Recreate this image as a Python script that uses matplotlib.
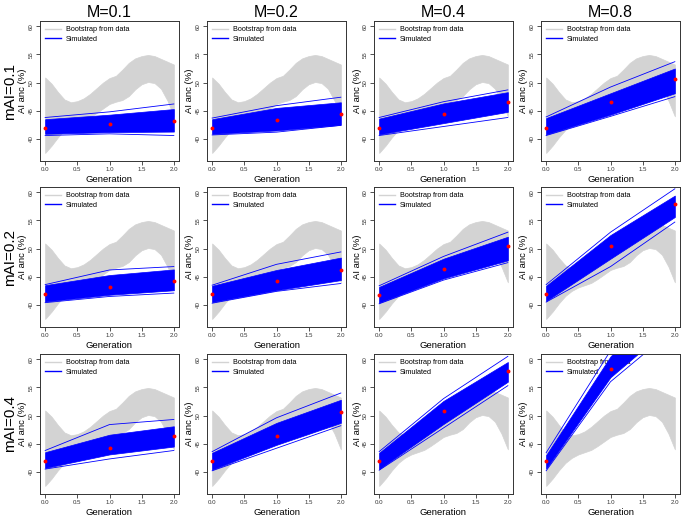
import matplotlib
matplotlib.use("Agg")
import matplotlib.pyplot as plt

plt.rcParams['font.family'] = ['Liberation Sans', 'DejaVu Sans']

# column / row parameters
m_labels = ['M=0.1', 'M=0.2', 'M=0.4', 'M=0.8']
mai_labels = ['mAI=0.1', 'mAI=0.2', 'mAI=0.4']
generations = [0, 1, 2]

boot_x = [0.0, 0.1, 0.2, 0.3, 0.4, 0.5, 0.6, 0.7, 0.8, 0.9, 1.0,
          1.1, 1.2, 1.3, 1.4, 1.5, 1.6, 1.7, 1.8, 1.9, 2.0]
boot_upper = [50.9, 49.8, 48.3, 47.0, 46.5, 46.7, 47.2, 48.0, 49.0, 50.0, 50.8,
              51.2, 52.3, 53.5, 54.3, 54.7, 54.9, 54.7, 54.2, 53.7, 53.2]
boot_lower = [37.5, 38.8, 40.3, 41.6, 42.5, 43.1, 43.5, 43.9, 44.6, 45.4, 46.2,
              46.6, 46.9, 47.6, 48.8, 49.7, 50.1, 49.9, 48.9, 46.8, 44.0]

# red points: observed mean per generation, rows = mAI, cols = M
red_means = [
    [[42.0, 42.6, 43.2], [42.0, 43.3, 44.4], [42.0, 44.4, 46.6], [42.0, 46.5, 50.6]],
    [[41.9, 43.1, 44.2], [41.9, 44.2, 46.2], [41.8, 46.4, 50.5], [41.9, 50.5, 57.9]],
    [[42.0, 44.2, 46.4], [42.0, 46.4, 50.7], [42.0, 50.8, 57.9], [42.0, 58.2, 70.5]],
]

# simulated runs: dense band limits and outermost single runs
band_hi = [
    [[43.5, 44.3, 45.3], [43.5, 45.5, 46.5], [43.6, 46.3, 48.3], [43.7, 48.1, 52.5]],
    [[43.5, 45.3, 46.3], [43.4, 46.2, 48.4], [43.2, 48.2, 52.1], [43.4, 52.4, 59.4]],
    [[43.5, 46.6, 48.1], [43.4, 48.7, 52.8], [43.4, 52.6, 59.5], [43.0, 60.5, 72.5]],
]
band_lo = [
    [[40.9, 41.2, 41.3], [40.9, 41.5, 42.5], [40.8, 42.8, 44.8], [40.8, 44.3, 48.1]],
    [[40.6, 41.8, 42.6], [40.5, 42.6, 44.4], [40.4, 44.7, 47.9], [40.7, 48.2, 55.6]],
    [[40.7, 43.1, 44.5], [40.4, 44.8, 48.7], [40.5, 48.5, 56.0], [40.6, 56.8, 66.5]],
]
run_hi = [
    [[43.8, 44.8, 46.2], [43.7, 45.9, 47.4], [43.8, 46.6, 48.7], [43.9, 49.2, 53.7]],
    [[43.6, 46.2, 46.8], [43.5, 47.2, 49.4], [43.4, 48.6, 52.9], [43.6, 52.9, 60.6]],
    [[43.8, 48.4, 49.3], [43.6, 49.6, 54.0], [43.6, 53.0, 60.5], [43.4, 61.5, 74.0]],
]
run_lo = [
    [[40.6, 40.9, 40.6], [40.7, 41.2, 42.4], [40.6, 42.2, 43.8], [40.6, 44.0, 47.5]],
    [[40.4, 41.5, 42.1], [40.3, 42.4, 43.8], [40.2, 44.4, 47.5], [40.5, 46.8, 54.7]],
    [[40.5, 42.3, 43.8], [40.2, 44.2, 48.2], [40.3, 47.8, 55.3], [40.2, 56.0, 65.5]],
]

GRAY = '#D3D3D3'
BLUE = '#0000FF'
W, H = 683, 517
col_left = [40, 207, 374, 541]
row_top = [21, 187, 354]
ax_w, ax_h = 139, 140

fig = plt.figure(figsize=(6.83, 5.17), dpi=100)

for r in range(3):
    for c in range(4):
        ax = fig.add_axes([col_left[c] / W, 1 - (row_top[r] + ax_h) / H, ax_w / W, ax_h / H])
        ax.fill_between(boot_x, boot_lower, boot_upper, color=GRAY, lw=0.5, zorder=0.3)
        ax.plot([], [], color=GRAY, lw=1, label='Bootstrap from data')
        ax.fill_between(generations, band_lo[r][c], band_hi[r][c], color=BLUE, lw=0.5, zorder=1)
        ax.plot(generations, run_hi[r][c], color=BLUE, lw=0.6, zorder=1)
        ax.plot(generations, run_lo[r][c], color=BLUE, lw=0.6, zorder=1)
        ax.plot([], [], color=BLUE, lw=1, label='Simulated')
        ax.plot(generations, red_means[r][c], 'o', color='#FF0000', ms=2.8, mec='none', zorder=3)

        ax.set_xlim(-0.08, 2.08)
        ax.set_ylim(36.08, 60.92)
        ax.set_xticks([0, 0.5, 1, 1.5, 2])
        ax.set_xticklabels(['0.0', '0.5', '1.0', '1.5', '2.0'])
        ax.set_yticks([40, 45, 50, 55, 60])
        ax.tick_params(labelsize=4.4, length=3.2, width=0.6, pad=1, colors='#333333')
        for lab in ax.get_yticklabels():
            lab.set_rotation(90)
            lab.set_va('center')
        for s in ax.spines.values():
            s.set_color('#333333')
            s.set_linewidth(0.7)
        ax.set_xlabel('Generation', fontsize=6.8, labelpad=2)
        ax.set_ylabel('AI anc (%)', fontsize=6.8, labelpad=1.2)

        leg = ax.legend(loc='upper left', frameon=False, fontsize=5.2, handlelength=2.2,
                        handletextpad=0.6, labelspacing=0.3, borderaxespad=0.35)
        leg.set_zorder(0.6)

        if r == 0:
            ax.set_title(m_labels[c], fontsize=11.5, pad=3)

for r in range(3):
    yc = 1 - (row_top[r] + ax_h / 2) / H
    fig.text(10.5 / W, yc, mai_labels[r], rotation=90, fontsize=11, ha='center', va='center')

fig.savefig('out.png', dpi=100)
